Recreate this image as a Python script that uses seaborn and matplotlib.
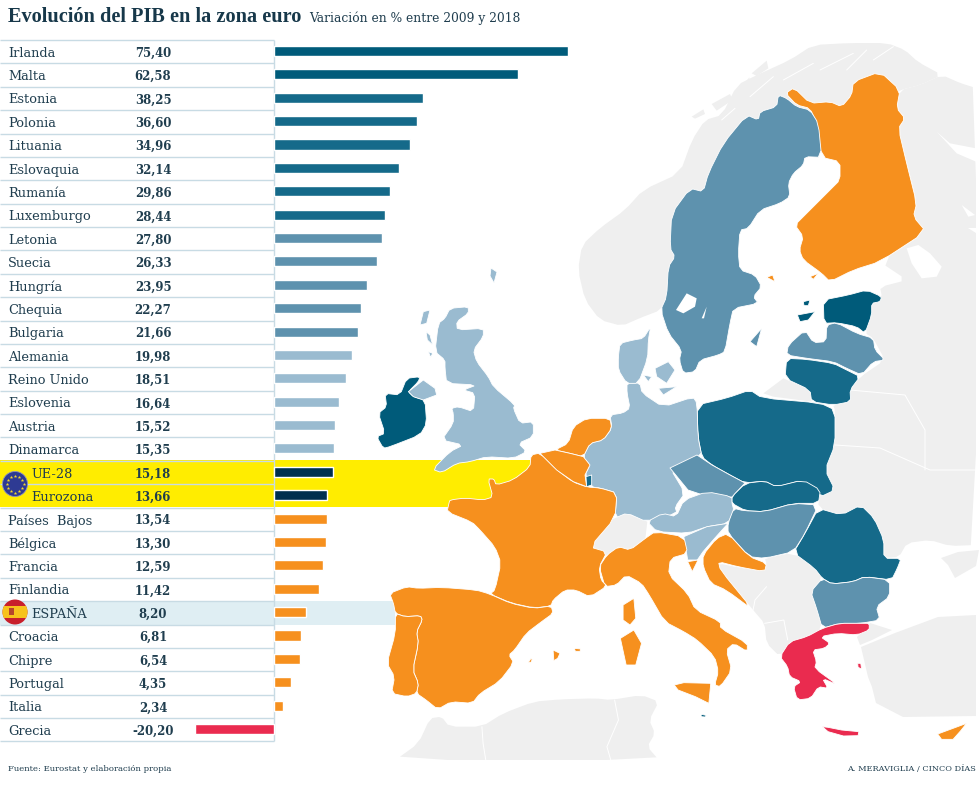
import numpy as np
import pandas as pd
import seaborn as sns
import matplotlib.pyplot as plt
from matplotlib.patches import Polygon, Circle, Rectangle

countries = ["Irlanda", "Malta", "Estonia", "Polonia", "Lituania", "Eslovaquia", "Rumanía", "Luxemburgo",
             "Letonia", "Suecia", "Hungría", "Chequia", "Bulgaria", "Alemania", "Reino Unido", "Eslovenia",
             "Austria", "Dinamarca", "UE-28", "Eurozona", "Países  Bajos", "Bélgica", "Francia", "Finlandia",
             "ESPAÑA", "Croacia", "Chipre", "Portugal", "Italia", "Grecia"]
growth = [75.40, 62.58, 38.25, 36.60, 34.96, 32.14, 29.86, 28.44, 27.80, 26.33, 23.95, 22.27, 21.66, 19.98,
          18.51, 16.64, 15.52, 15.35, 15.18, 13.66, 13.54, 13.30, 12.59, 11.42, 8.20, 6.81, 6.54, 4.35, 2.34,
          -20.20]
groups = ["a", "a", "b", "b", "b", "b", "b", "b", "c", "c", "c", "c", "c", "d", "d", "d", "d", "d", "eu", "eu",
          "o", "o", "o", "o", "o", "o", "o", "o", "o", "r"]
group_colors = {"a": "#005b7a", "b": "#156a8a", "c": "#5e92ae", "d": "#9abbd0", "eu": "#00304f",
                "o": "#f6901e", "r": "#ea2b4f"}

DARK, MID, STEEL, PALE = "#005b7a", "#156a8a", "#5e92ae", "#9abbd0"
ORANGE, RED, GREY = "#f6901e", "#ea2b4f", "#efefef"
RULE = "#c8dbe4"
TEXT = "#1f3d4e"


def c4(pts):
    return [(370 + x / 3, 280 + y / 3) for x, y in pts]


def c5(pts):
    return [(640 + x / 3, 40 + y / 3) for x, y in pts]


def c6(pts):
    return [(380 + x / 2.6, 480 + y / 3) for x, y in pts]


def soften(pts):
    # one pass of corner cutting so the traced outlines look less angular
    if len(pts) < 10:
        return pts
    arr = np.array(pts, dtype=float)
    nxt = np.roll(arr, -1, axis=0)
    out = np.empty((len(arr) * 2, 2))
    out[0::2] = 0.8 * arr + 0.2 * nxt
    out[1::2] = 0.2 * arr + 0.8 * nxt
    return out


# map outlines in pixels
grey_land = [
    # norway
    [(661, 310), (640, 318), (622, 326), (600, 320), (585, 300), (578, 270), (582, 245), (600, 228), (625, 210),
     (643, 190), (680, 173), (692, 140), (705, 120), (722, 115), (737, 85), (757, 75), (790, 60), (813, 45),
     (850, 43), (887, 43), (905, 50), (918, 62), (942, 75), (920, 85), (900, 90), (860, 110), (780, 120), (720, 250)],
    # russia, belarus, ukraine
    [(942, 75), (960, 83), (976, 88), (976, 545), (950, 546), (930, 540), (907, 543), (899, 557), (884, 558),
     (884, 540), (874, 518), (861, 505), (842, 515), (818, 508), (820, 490), (833, 490), (825, 470), (835, 445),
     (835, 410), (833, 405), (851, 402), (850, 390), (860, 377), (885, 360), (873, 338), (865, 333), (872, 315),
     (872, 303), (882, 297), (880, 287), (907, 280), (880, 262), (926, 232), (913, 217), (917, 203), (907, 163),
     (898, 128), (905, 118), (897, 108), (900, 90), (920, 85)],
    # crimea
    [(941, 558), (958, 552), (979, 550), (976, 566), (955, 578), (948, 565)],
    # turkey
    [(861, 647), (895, 633), (938, 617), (976, 615), (976, 716), (903, 717), (876, 703), (872, 687), (868, 677)],
    [(857, 637), (866, 628), (870, 623), (892, 630), (872, 640), (860, 645)],
    # kaliningrad
    c5([(370, 1060), (430, 1015), (510, 1050), (515, 1085), (400, 1070)]),
    # balkans
    c6([(880, 250), (930, 262), (1000, 275), (1005, 250), (1000, 235), (1075, 218), (1130, 265), (1150, 295),
        (1120, 335), (1135, 385), (1150, 445), (1110, 470), (1065, 485), (1040, 530), (1005, 490), (1000, 430),
        (970, 390), (885, 270)]),
    # switzerland
    c6([(540, 205), (570, 165), (600, 120), (640, 100), (695, 125), (690, 175), (650, 210), (620, 200), (590, 225)]),
    # north africa
    c6([(40, 840), (100, 790), (130, 715), (160, 710), (180, 740), (265, 740), (320, 700), (400, 665), (470, 658),
        (560, 655), (600, 660), (680, 645), (725, 665), (700, 720), (715, 760), (695, 800), (725, 840)]),
    # norwegian coast islands
    c5([(155, 230), (190, 208), (195, 222), (165, 236)]),
    c5([(215, 192), (270, 162), (278, 180), (230, 212)]),
    c5([(290, 160), (328, 112), (330, 140), (300, 165)]),
    c5([(335, 100), (380, 62), (385, 85), (350, 108)]),
]
grey_borders = [
    c6([(265, 740), (268, 790), (275, 840)]),
    c6([(610, 660), (620, 720), (590, 800), (600, 840)]),
    c6([(1005, 320), (975, 360), (970, 390)]),
    c6([(1000, 430), (1050, 420), (1060, 480)]),
    [(835, 445), (880, 448), (930, 470), (976, 470)],
    [(850, 390), (905, 395), (925, 430), (925, 470)],
    c5([(245, 240), (285, 205)]),
    c5([(330, 170), (400, 110)]),
    c5([(430, 120), (520, 70)]),
    c5([(540, 90), (640, 40)]),
    c5([(620, 90), (680, 30)]),
    c5([(700, 60), (760, 20)]),
]
white_water = [
    c5([(800, 625), (835, 615), (870, 640), (905, 680), (890, 710), (845, 715), (815, 670)]),
    c5([(890, 275), (930, 310), (1008, 325), (1008, 365), (950, 340)]),
    c5([(965, 495), (1005, 525), (985, 530)]),
    c5([(985, 565), (1008, 565), (1008, 580)]),
    c5([(108, 810), (140, 760), (170, 775), (165, 800), (130, 820)]),
    c5([(185, 835), (200, 800), (192, 835)]),
]
map_shapes = [
    (MID, c6([(1140, 85), (1200, 105), (1250, 75), (1285, 115), (1310, 180), (1310, 235), (1355, 235), (1345, 265),
              (1330, 300), (1260, 290), (1230, 305), (1175, 312), (1150, 295), (1130, 265), (1075, 218),
              (1105, 160)])),
    (STEEL, c6([(1150, 295), (1175, 312), (1230, 305), (1260, 290), (1325, 300), (1325, 350), (1290, 380),
                (1300, 420), (1250, 430), (1195, 430), (1150, 445), (1135, 385), (1120, 335)])),
    (ORANGE, c5([(437, 160), (462, 143), (510, 190), (570, 185), (605, 200), (635, 165), (640, 125), (720, 95),
                 (780, 150), (770, 205), (795, 235), (775, 265), (800, 370), (830, 490), (820, 530), (858, 575),
                 (720, 665), (640, 690), (570, 725), (545, 700), (490, 660), (478, 630), (490, 590), (465, 555),
                 (500, 520), (570, 450), (600, 420), (600, 365), (545, 352), (530, 250), (510, 205), (470, 195)])),
    (ORANGE, c5([(380, 712), (398, 705), (405, 725)])),
    (ORANGE, c5([(510, 710), (535, 700), (520, 718)])),
    (STEEL, c5([(415, 165), (440, 175), (470, 200), (510, 210), (535, 250), (545, 352), (495, 350), (490, 375),
                (460, 400), (445, 430), (450, 470), (420, 490), (360, 510), (325, 565), (300, 570), (295, 640),
                (300, 690), (345, 705), (365, 740), (340, 770), (355, 790), (280, 805), (270, 850), (255, 935),
                (235, 945), (180, 960), (165, 995), (130, 1000), (118, 960), (125, 930), (85, 880), (62, 810),
                (80, 770), (85, 680), (105, 650), (90, 625), (95, 520), (150, 445), (190, 455), (205, 400),
                (250, 310), (320, 225), (355, 240), (360, 215), (410, 200)])),
    (STEEL, c5([(330, 905), (365, 865), (350, 920)])),
    (DARK, c5([(550, 780), (625, 765), (680, 750), (725, 770), (720, 785), (695, 790), (695, 825), (675, 880),
               (650, 860), (590, 848), (552, 850)])),
    (DARK, c5([(472, 825), (525, 815), (505, 840), (480, 845)])),
    (DARK, c5([(490, 785), (510, 780), (505, 797), (492, 797)])),
    (STEEL, c5([(440, 945), (445, 915), (495, 870), (520, 908), (558, 905), (560, 855), (590, 848), (650, 880),
                (700, 895), (705, 930), (735, 960), (700, 965), (665, 1005), (620, 985), (580, 965), (500, 955)])),
    (MID, c5([(440, 955), (500, 958), (580, 970), (620, 990), (660, 1010), (630, 1050), (632, 1085), (580, 1095),
              (515, 1085), (510, 1050), (435, 1015)])),
    (MID, [(697, 405), (727, 398), (750, 390), (762, 398), (820, 403), (835, 410), (835, 445), (825, 470),
           (835, 490), (820, 497), (803, 480), (776, 487), (765, 481), (745, 483), (730, 475), (712, 465),
           (702, 457), (698, 437)]),
    (PALE, [(627, 383), (640, 383), (642, 393), (663, 407), (693, 397), (697, 403), (698, 437), (702, 457),
            (670, 468), (685, 493), (675, 507), (677, 513), (647, 522), (627, 513), (615, 518), (617, 493),
            (600, 488), (592, 487), (585, 475), (590, 465), (583, 457), (590, 443), (603, 440), (612, 428),
            (610, 415), (623, 413), (630, 408), (627, 393)]),
    (STEEL, [(670, 468), (697, 455), (712, 465), (730, 475), (745, 483), (732, 497), (709, 497), (688, 490)]),
    (MID, c6([(915, 50), (950, 10), (1000, 3), (1030, 20), (1100, 0), (1145, 30), (1140, 70), (1075, 70),
              (1000, 95), (950, 92), (915, 70)])),
    (PALE, c6([(695, 125), (735, 100), (770, 110), (790, 60), (850, 35), (915, 50), (915, 70), (920, 90),
               (905, 130), (850, 140), (800, 160), (720, 155)])),
    (PALE, c6([(790, 170), (850, 140), (905, 130), (870, 175), (840, 215), (825, 240), (800, 240)])),
    (STEEL, c6([(920, 85), (945, 92), (1000, 95), (1075, 70), (1140, 75), (1105, 160), (1075, 215), (1000, 235),
                (960, 230), (905, 160), (905, 130)])),
    (ORANGE, c6([(840, 225), (875, 175), (905, 160), (960, 230), (1005, 250), (1000, 275), (930, 260), (880, 245),
                 (885, 270), (970, 390), (900, 330), (860, 310), (840, 260)])),
    (ORANGE, c6([(800, 245), (827, 240), (812, 275)])),
    (ORANGE, [(450, 500), (465, 498), (483, 500), (493, 497), (488, 479), (494, 479), (496, 485), (513, 480),
              (530, 467), (531, 455), (540, 453), (557, 470), (573, 482), (587, 487), (600, 488), (617, 493),
              (615, 518), (590, 547), (607, 552), (599, 567), (601, 580), (607, 586), (590, 597), (576, 590),
              (565, 590), (553, 600), (551, 606), (534, 608), (511, 603), (490, 594), (495, 590), (501, 563),
              (495, 547), (480, 530), (472, 522), (447, 512), (449, 503)]),
    (ORANGE, c4([(610, 440), (650, 415), (720, 415), (725, 445), (700, 480), (660, 490), (640, 530), (600, 520),
                 (555, 510), (595, 490)])),
    (ORANGE, c4([(510, 520), (555, 510), (600, 520), (640, 530), (660, 555), (645, 585), (650, 620), (610, 605),
                 (560, 570)])),
    (MID, c4([(648, 590), (665, 585), (665, 615), (650, 620)])),
    (PALE, c4([(240, 85), (295, 80), (295, 100), (260, 125), (262, 150), (340, 145), (340, 170), (310, 210),
               (320, 245), (355, 290), (370, 320), (435, 375), (430, 385), (450, 430), (490, 425), (490, 470),
               (445, 490), (470, 515), (430, 535), (350, 530), (300, 545), (260, 550), (215, 578), (188, 568),
               (240, 515), (280, 495), (215, 480), (250, 430), (250, 400), (245, 385), (265, 380), (310, 395),
               (315, 340), (280, 330), (320, 315), (230, 310), (225, 265), (225, 240), (195, 215), (205, 130),
               (225, 115)])),
    (PALE, c4([(150, 135), (160, 95), (180, 90), (170, 130)])),
    (PALE, c4([(168, 155), (180, 165), (188, 195), (172, 180)])),
    (PALE, c4([(175, 215), (188, 220), (182, 232)])),
    (PALE, [(491, 268), (497, 272), (494, 283), (490, 276)]),
    (DARK, c4([(20, 470), (45, 460), (25, 400), (50, 380), (45, 340), (90, 345), (110, 295), (150, 290), (145, 305),
               (115, 335), (130, 350), (165, 360), (170, 430), (150, 465), (60, 500), (40, 505)])),
    (PALE, c4([(115, 335), (160, 300), (195, 325), (200, 345), (160, 360), (130, 350)])),
    (PALE, c4([(745, 230), (750, 190), (790, 180), (820, 175), (842, 140), (835, 180), (833, 235), (805, 310),
               (770, 310), (745, 270)])),
    (PALE, c4([(855, 265), (895, 245), (915, 270), (890, 310), (860, 290)])),
    (PALE, c4([(820, 285), (845, 290), (835, 305)])),
    (PALE, c4([(865, 325), (920, 320), (880, 345)])),
    (ORANGE, c6([(25, 340), (70, 320), (100, 325), (160, 322), (250, 330), (285, 342), (340, 370), (400, 385),
                 (445, 378), (450, 400), (420, 425), (380, 460), (350, 510), (335, 525), (348, 548), (310, 605),
                 (260, 640), (240, 670), (185, 665), (150, 688), (120, 660), (95, 640), (100, 610), (85, 570),
                 (100, 490), (95, 455), (110, 420), (105, 407), (65, 410), (40, 400), (35, 370)])),
    (ORANGE, c6([(40, 400), (65, 410), (105, 407), (110, 420), (95, 455), (100, 490), (85, 570), (100, 610),
                 (95, 640), (70, 650), (30, 640), (38, 590), (18, 550), (40, 460)])),
    (ORANGE, c6([(590, 225), (620, 200), (650, 210), (690, 175), (715, 155), (790, 170), (800, 220), (755, 235),
                 (750, 285), (800, 340), (820, 390), (885, 425), (885, 445), (955, 490), (955, 515), (920, 490),
                 (900, 510), (915, 570), (885, 620), (870, 615), (880, 575), (870, 530), (825, 480), (790, 455),
                 (740, 425), (700, 345), (680, 310), (640, 285), (615, 315), (585, 320), (570, 260)])),
    (ORANGE, c6([(765, 615), (790, 608), (860, 610), (855, 670), (820, 650), (775, 630)])),
    (ORANGE, c6([(625, 475), (660, 450), (680, 490), (665, 555), (640, 555)])),
    (ORANGE, c6([(632, 375), (660, 355), (665, 415), (650, 435), (632, 420)])),
    (ORANGE, c6([(450, 510), (468, 520), (462, 535), (452, 542)])),
    (ORANGE, c6([(505, 505), (522, 507), (520, 514), (508, 514)])),
    (ORANGE, c6([(386, 547), (392, 536), (396, 538), (392, 548)])),
    (RED, c6([(1040, 530), (1065, 485), (1110, 470), (1150, 445), (1195, 430), (1250, 430), (1272, 430), (1272, 450),
              (1240, 465), (1190, 460), (1145, 470), (1170, 490), (1155, 505), (1125, 510), (1135, 545), (1130, 565),
              (1190, 615), (1150, 595), (1165, 625), (1140, 620), (1120, 655), (1085, 660), (1075, 620), (1095, 605),
              (1065, 590), (1060, 560)])),
    (RED, c6([(1150, 740), (1165, 742), (1200, 750), (1245, 755), (1243, 767), (1205, 768), (1165, 755)])),
    (RED, c6([(1242, 550), (1250, 550), (1252, 567), (1243, 562)])),
    (ORANGE, c6([(1450, 762), (1490, 745), (1525, 730), (1510, 752), (1490, 778), (1460, 778)])),
    (DARK, c6([(835, 703), (848, 706), (846, 711), (835, 710)])),
]

sns.set_theme(style="white")
plt.rcParams["font.family"] = ["DejaVu Serif"]

fig = plt.figure(figsize=(9.8, 7.87), dpi=100)
fig.patch.set_facecolor("white")

# background layer in pixel coordinates: bands, map, table text
ax = fig.add_axes([0, 0, 1, 1], zorder=1)
ax.set_xlim(0, 980)
ax.set_ylim(787, 0)
ax.axis("off")

row_top = 40
row_h = 23.38

ax.add_patch(Rectangle((0, 460), 533, 47, color="#ffed00", lw=0, zorder=1))
ax.add_patch(Rectangle((0, 601), 395, 23.5, color="#dfeef3", lw=0, zorder=1))

for pts in grey_land:
    ax.add_patch(Polygon(soften(pts), closed=True, facecolor=GREY, edgecolor="none", zorder=2))
for pts in grey_borders:
    ax.plot(*zip(*pts), color="white", lw=0.7, zorder=2.1)
for col, pts in map_shapes:
    ax.add_patch(Polygon(soften(pts), closed=True, facecolor=col, edgecolor="white", lw=0.6,
                         joinstyle="round", zorder=3))
for pts in white_water:
    ax.add_patch(Polygon(soften(pts), closed=True, facecolor="white", edgecolor="none", zorder=3.5))

# table rules
for i in range(len(countries) + 1):
    ax.hlines(row_top + i * row_h, 0, 274, color=RULE, lw=1, zorder=4)
ax.vlines(274, row_top, row_top + len(countries) * row_h, color=RULE, lw=1, zorder=4)

for i, (name, val) in enumerate(zip(countries, growth)):
    y = row_top + (i + 0.5) * row_h + 1.5
    indent = 31 if name in ("UE-28", "Eurozona", "ESPAÑA") else 8
    ax.text(indent, y, name, fontsize=9.3, color=TEXT, ha="left", va="center", zorder=5)
    label = f"{val:.2f}".replace(".", ",")
    ax.text(153, y, label, fontsize=8.4, fontweight="bold", color=TEXT, ha="center", va="center", zorder=5)

# flags
eu = Circle((15, 484), 12.5, facecolor="#2e3a93", edgecolor="#8a8fc0", lw=0.6, zorder=6)
ax.add_patch(eu)
star_angles = np.linspace(0, 2 * np.pi, 12, endpoint=False)
ax.scatter(15 + 8.5 * np.cos(star_angles), 484 + 8.5 * np.sin(star_angles), marker="*", s=7, color="#f4d730",
           linewidths=0, zorder=7)

es_clip = Circle((15, 612), 12.5, transform=ax.transData)
for top, h, col in [(599, 26, "#c8202c"), (606, 12, "#f7c31c")]:
    band = Rectangle((2, top), 26, h, facecolor=col, lw=0, zorder=6)
    ax.add_patch(band)
    band.set_clip_path(es_clip)
ax.add_patch(Rectangle((9, 608), 5, 7, facecolor="#b5462c", lw=0, zorder=7))

# titles and credits
ax.text(8, 16.5, "Evolución del PIB en la zona euro", fontsize=14.6, fontweight="bold", color="#17384a",
        family="Liberation Serif", ha="left", va="center", zorder=5)
ax.text(309, 18, "Variación en % entre 2009 y 2018", fontsize=8.8, color=TEXT, ha="left", va="center", zorder=5)
ax.text(8, 769, "Fuente: Eurostat y elaboración propia", fontsize=6.1, color=TEXT, ha="left", va="center", zorder=5)
ax.text(976, 769, "A. MERAVIGLIA / CINCO DÍAS", fontsize=5.9, color=TEXT, ha="right", va="center", zorder=5)

# bars on their own scale, lined up with the table rows
bar_ax = fig.add_axes([0, 0, 1, 1], zorder=2)
bar_ax.patch.set_alpha(0)
df = pd.DataFrame({"pais": countries, "pib": growth, "grupo": groups})
sns.barplot(data=df, x="pib", y="pais", hue="grupo", palette=group_colors, dodge=False, legend=False,
            width=0.43, saturation=1, orient="h", ax=bar_ax)
px_per_unit = 3.9
bar_ax.set_xlim(-274 / px_per_unit, (980 - 274) / px_per_unit)
first_row = row_top + 0.5 * row_h - 0.7
bar_ax.set_ylim((787 - first_row) / row_h, -first_row / row_h)
bar_ax.axis("off")

fig.savefig("out.png", dpi=100)
